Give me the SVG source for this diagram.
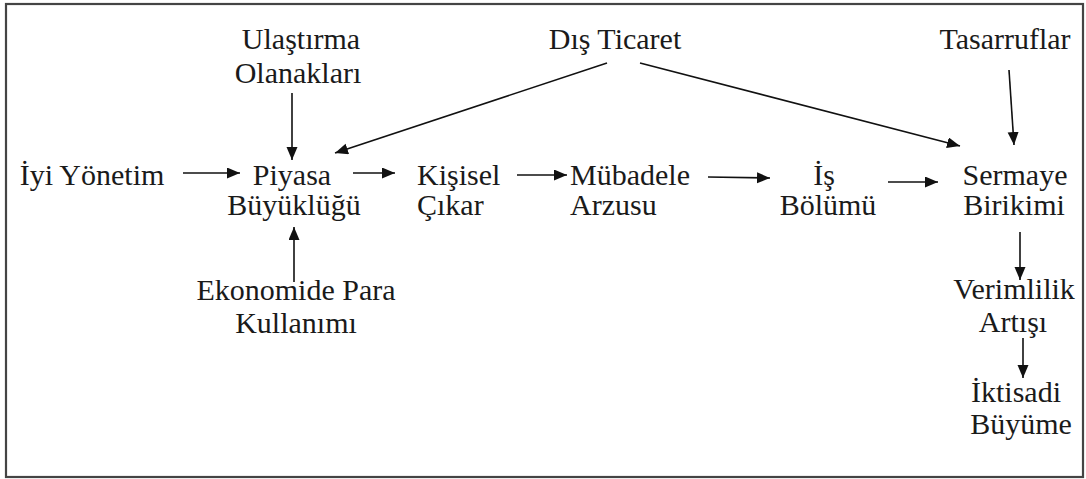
<svg xmlns="http://www.w3.org/2000/svg" width="1086" height="479" viewBox="0 0 1086 479">
<style>
text{font-family:'Liberation Serif','Times New Roman',serif;font-size:30px;fill:#1a1a1a}
.c{text-anchor:middle}
.s{text-anchor:start}
.e{stroke:#111;stroke-width:1.6;fill:none;marker-end:url(#ah)}
</style>
<defs>
<marker id="ah" markerUnits="userSpaceOnUse" markerWidth="14" markerHeight="12" refX="13" refY="5.5" orient="auto">
<path d="M0,0 L13,5.5 L0,11 Z" fill="#111"/>
</marker>
</defs>
<rect x="6" y="4" width="1077" height="473" fill="#fff" stroke="#444" stroke-width="2.2"/>
<g id="ulastirma"><text class="c" x="301" y="49">Ulaştırma</text><text class="c" x="298" y="83">Olanakları</text></g>
<g id="dis-ticaret"><text class="c" x="615" y="49">Dış Ticaret</text></g>
<g id="tasarruflar"><text class="c" x="1005" y="49">Tasarruflar</text></g>
<g id="iyi-yonetim"><text class="c" x="92" y="185">İyi Yönetim</text></g>
<g id="piyasa"><text class="c" x="292" y="185">Piyasa</text><text class="c" x="294" y="215">Büyüklüğü</text></g>
<g id="kisisel"><text class="s" x="417" y="185">Kişisel</text><text class="s" x="417" y="215">Çıkar</text></g>
<g id="mubadele"><text class="s" x="570" y="185">Mübadele</text><text class="s" x="570" y="215">Arzusu</text></g>
<g id="is-bolumu"><text class="c" x="824" y="185">İş</text><text class="c" x="828" y="215">Bölümü</text></g>
<g id="sermaye"><text class="c" x="1015" y="185">Sermaye</text><text class="c" x="1014" y="215">Birikimi</text></g>
<g id="ekonomide"><text class="c" x="296" y="300">Ekonomide Para</text><text class="c" x="296" y="333">Kullanımı</text></g>
<g id="verimlilik"><text class="c" x="1014" y="299">Verimlilik</text><text class="c" x="1013" y="332">Artışı</text></g>
<g id="iktisadi"><text class="c" x="1016" y="402">İktisadi</text><text class="c" x="1021" y="434">Büyüme</text></g>
<g id="connectors">
<line class="e" x1="292" y1="93" x2="292" y2="160"/>
<line class="e" x1="183" y1="173" x2="240" y2="173"/>
<line class="e" x1="607" y1="63" x2="335" y2="153"/>
<line class="e" x1="640" y1="63" x2="960" y2="146"/>
<line class="e" x1="1009" y1="70" x2="1014" y2="145"/>
<line class="e" x1="353" y1="173" x2="395" y2="173"/>
<line class="e" x1="517" y1="175" x2="567" y2="175"/>
<line class="e" x1="708" y1="177" x2="770" y2="178"/>
<line class="e" x1="888" y1="182" x2="938" y2="182"/>
<line class="e" x1="1020" y1="232" x2="1020" y2="280"/>
<line class="e" x1="1023" y1="338" x2="1023" y2="378"/>
<line class="e" x1="294" y1="282" x2="294" y2="227"/>
</g>
</svg>
